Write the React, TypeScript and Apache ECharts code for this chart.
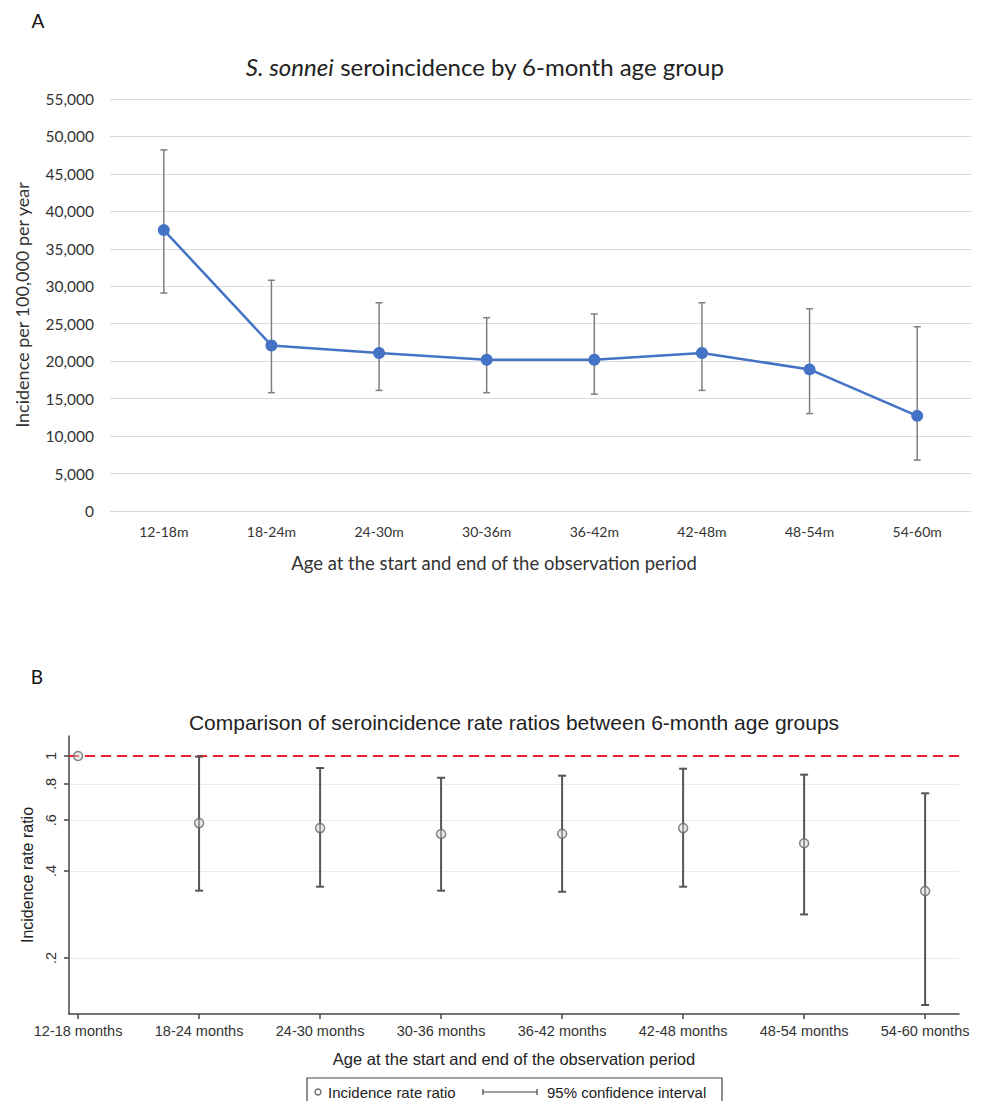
import React, { useEffect, useRef } from 'react';
import * as echarts from 'echarts';

// ---------- Panel A data ----------
const ageGroupsA = ['12-18m', '18-24m', '24-30m', '30-36m', '36-42m', '42-48m', '48-54m', '54-60m'];
const incidence = [37500, 22100, 21100, 20200, 20200, 21100, 18900, 12700];
const incidenceLow = [29100, 15800, 16100, 15800, 15600, 16100, 13000, 6800];
const incidenceHigh = [48200, 30800, 27800, 25800, 26300, 27800, 27000, 24600];

// ---------- Panel B data ----------
const ageGroupsB = ['12-18 months', '18-24 months', '24-30 months', '30-36 months', '36-42 months', '42-48 months', '48-54 months', '54-60 months'];
const irr = [1, 0.586, 0.563, 0.537, 0.538, 0.563, 0.499, 0.341];
const irrLow: (number | null)[] = [null, 0.342, 0.353, 0.342, 0.339, 0.353, 0.283, 0.1375];
const irrHigh: (number | null)[] = [null, 0.995, 0.909, 0.841, 0.855, 0.904, 0.862, 0.743];
const irrTicks = [0.2, 0.4, 0.6, 0.8, 1];
const irrTickLabels = ['.2', '.4', '.6', '.8', '1'];

const FA = 'Lato, "Open Sans", sans-serif';
const FB = '"Liberation Sans", Arial, sans-serif';

export default function App() {
  const ref = useRef<HTMLDivElement>(null);

  useEffect(() => {
    document.body.style.margin = '0';
    if (!ref.current) return;
    const chart = echarts.init(ref.current, null, { renderer: 'svg' });

    const errA = ageGroupsA.map((_, i) => [i, incidenceLow[i], incidenceHigh[i]]);
    const errB: number[][] = [];
    irrLow.forEach((lo, i) => {
      const hi = irrHigh[i];
      if (lo != null && hi != null) errB.push([i, Math.log(lo), Math.log(hi)]);
    });
    const pointsB = irr.map((v, i) => [i, Math.log(v)]);

    const makeErr = (color: string, width: number, cap: number) => (params: any, api: any) => {
      const x = api.value(0);
      const lo = api.value(1);
      const hi = api.value(2);
      const top = api.coord([x, hi]);
      const bot = api.coord([x, lo]);
      const style = { stroke: color, lineWidth: width };
      return {
        type: 'group',
        children: [
          { type: 'line', shape: { x1: top[0], y1: top[1], x2: bot[0], y2: bot[1] }, style },
          { type: 'line', shape: { x1: top[0] - cap, y1: top[1], x2: top[0] + cap, y2: top[1] }, style },
          { type: 'line', shape: { x1: bot[0] - cap, y1: bot[1], x2: bot[0] + cap, y2: bot[1] }, style },
        ],
      };
    };

    const tickLabelFor = (v: number) => {
      for (let k = 0; k < irrTicks.length; k++) {
        if (Math.abs(Math.log(irrTicks[k]) - v) < 1e-6) return irrTickLabels[k];
      }
      return '';
    };

    const option: any = {
      animation: false,
      grid: [
        { left: 110, top: 99, width: 861, height: 412 },
        { left: 69, top: 736, width: 890, height: 278 },
      ],
      xAxis: [
        {
          type: 'category',
          gridIndex: 0,
          data: ageGroupsA,
          boundaryGap: true,
          axisLine: { show: false },
          axisTick: { show: false },
          axisLabel: { fontFamily: FA, fontSize: 14, color: '#333', margin: 13 },
        },
        {
          type: 'value',
          gridIndex: 1,
          min: -0.075,
          max: 7.28,
          splitLine: { show: false },
          axisLine: { show: true, onZero: false, lineStyle: { color: '#444', width: 1.5 } },
          axisTick: { show: true, length: 5, lineStyle: { color: '#444', width: 1.5 }, customValues: ageGroupsB.map((_, i) => i) },
          axisLabel: {
            customValues: ageGroupsB.map((_, i) => i),
            formatter: (v: number) => ageGroupsB[Math.round(v)],
            fontFamily: FB,
            fontSize: 14.5,
            color: '#333',
            margin: 9,
          },
          name: 'Age at the start and end of the observation period',
          nameLocation: 'middle',
          nameGap: 36,
          nameTextStyle: { fontFamily: FB, fontSize: 16.5, color: '#222' },
        },
      ],
      yAxis: [
        {
          type: 'value',
          gridIndex: 0,
          min: 0,
          max: 55000,
          interval: 5000,
          axisLine: { show: false },
          axisTick: { show: false },
          splitLine: { show: true, lineStyle: { color: '#d9d9d9', width: 1 } },
          axisLabel: {
            fontFamily: FA,
            fontSize: 15.5,
            color: '#333',
            margin: 16,
            formatter: (v: number) => v.toLocaleString('en-US'),
          },
          name: 'Incidence per 100,000 per year',
          nameLocation: 'middle',
          nameGap: 79,
          nameTextStyle: { fontFamily: FA, fontSize: 18, color: '#333' },
        },
        {
          type: 'value',
          gridIndex: 1,
          min: Math.log(0.128),
          max: Math.log(1.173),
          axisLine: { show: true, onZero: false, lineStyle: { color: '#444', width: 1.5 } },
          axisTick: { show: true, length: 5, lineStyle: { color: '#444', width: 1.5 }, customValues: irrTicks.map((t) => Math.log(t)) },
          splitLine: { show: true, lineStyle: { color: '#e3eef0', width: 1 } },
          axisLabel: {
            customValues: irrTicks.map((t) => Math.log(t)),
            formatter: tickLabelFor,
            rotate: 90,
            fontFamily: FB,
            fontSize: 14.5,
            color: '#333',
            margin: 11,
          },
          name: 'Incidence rate ratio',
          nameLocation: 'middle',
          nameGap: 33,
          nameTextStyle: { fontFamily: FB, fontSize: 16, color: '#222' },
        },
      ],
      series: [
        {
          type: 'custom',
          xAxisIndex: 0,
          yAxisIndex: 0,
          data: errA,
          encode: { x: 0, y: [1, 2] },
          renderItem: makeErr('#7f7f7f', 1.5, 3.5),
          z: 2,
        },
        {
          type: 'line',
          xAxisIndex: 0,
          yAxisIndex: 0,
          data: incidence,
          symbol: 'circle',
          symbolSize: 12,
          lineStyle: { color: '#4472c4', width: 2.5 },
          itemStyle: { color: '#4472c4' },
          z: 3,
        },
        {
          type: 'custom',
          xAxisIndex: 1,
          yAxisIndex: 1,
          data: errB,
          encode: { x: 0, y: [1, 2] },
          renderItem: makeErr('#555', 2, 4),
          z: 2,
        },
        {
          type: 'scatter',
          xAxisIndex: 1,
          yAxisIndex: 1,
          data: pointsB,
          symbol: 'circle',
          symbolSize: 9,
          itemStyle: { color: 'rgba(215,215,215,0.6)', borderColor: '#666', borderWidth: 1.5 },
          z: 3,
          markLine: {
            silent: true,
            symbol: 'none',
            label: { show: false },
            lineStyle: { color: '#e8202a', type: [10, 6], width: 2 },
            data: [{ yAxis: 0 }],
            z: 1,
          },
        },
      ],
      graphic: [
        { type: 'text', x: 38, y: 20, style: { text: 'A', font: `19px ${FA}`, fill: '#111', align: 'center', verticalAlign: 'middle' } },
        { type: 'text', x: 37, y: 676, style: { text: 'B', font: `19px ${FA}`, fill: '#111', align: 'center', verticalAlign: 'middle' } },
        {
          type: 'text',
          x: 485,
          y: 66,
          style: {
            text: '{i|S. sonnei}{n| seroincidence by 6-month age group}',
            align: 'center',
            verticalAlign: 'middle',
            rich: {
              i: { fontStyle: 'italic', fontSize: 24, fontFamily: FA, fill: '#222' },
              n: { fontSize: 24, fontFamily: FA, fill: '#222' },
            },
          },
        },
        {
          type: 'text',
          x: 494,
          y: 563,
          style: { text: 'Age at the start and end of the observation period', font: `18.5px ${FA}`, fill: '#333', align: 'center', verticalAlign: 'middle' },
        },
        {
          type: 'text',
          x: 514,
          y: 722,
          style: { text: 'Comparison of seroincidence rate ratios between 6-month age groups', font: `21px ${FB}`, fill: '#222', align: 'center', verticalAlign: 'middle' },
        },
        // legend box for panel B
        { type: 'rect', shape: { x: 307, y: 1078, width: 415, height: 40 }, style: { fill: 'none', stroke: '#444', lineWidth: 1.2 } },
        { type: 'circle', shape: { cx: 318, cy: 1092, r: 3 }, style: { fill: 'none', stroke: '#555', lineWidth: 1.2 } },
        { type: 'text', x: 328, y: 1092, style: { text: 'Incidence rate ratio', font: `15px ${FB}`, fill: '#222', align: 'left', verticalAlign: 'middle' } },
        { type: 'line', shape: { x1: 483, y1: 1092, x2: 537, y2: 1092 }, style: { stroke: '#444', lineWidth: 1.2 } },
        { type: 'line', shape: { x1: 483, y1: 1089, x2: 483, y2: 1095 }, style: { stroke: '#444', lineWidth: 1.2 } },
        { type: 'line', shape: { x1: 537, y1: 1089, x2: 537, y2: 1095 }, style: { stroke: '#444', lineWidth: 1.2 } },
        { type: 'text', x: 547, y: 1092, style: { text: '95% confidence interval', font: `15px ${FB}`, fill: '#222', align: 'left', verticalAlign: 'middle' } },
      ],
    };

    chart.setOption(option);
    return () => chart.dispose();
  }, []);

  return <div ref={ref} style={{ width: 984, height: 1101 }} />;
}
